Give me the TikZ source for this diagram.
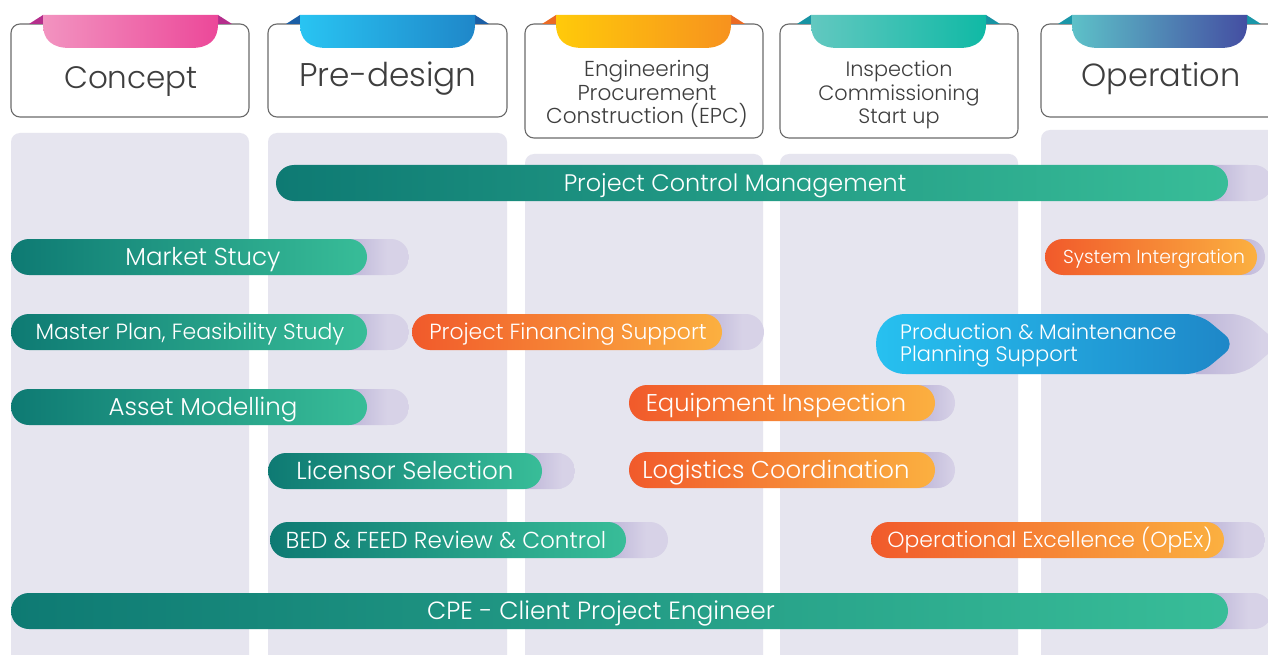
\documentclass[tikz,border=0pt]{standalone}
\usepackage{fontspec}
\IfFontExistsTF{Poppins Light}{\setmainfont{Poppins Light}}{\setmainfont{Poppins}}
\definecolor{colbg}{HTML}{E6E5EF}
\definecolor{shad}{HTML}{D7D2E7}
\definecolor{shaddk}{HTML}{BDB5D8}
\definecolor{gL}{HTML}{0E7A73}
\definecolor{gR}{HTML}{38BD98}
\definecolor{oL}{HTML}{F15A2B}
\definecolor{oR}{HTML}{FBB040}
\definecolor{bL}{HTML}{27C2F1}
\definecolor{bR}{HTML}{1E86C7}
\definecolor{hdr}{HTML}{6B6B6B}
\definecolor{txt}{HTML}{3E3E3E}
\definecolor{pkL}{HTML}{F293C0}
\definecolor{pkR}{HTML}{EC4899}
\definecolor{pkT}{HTML}{B52E8C}
\definecolor{blL}{HTML}{29C4F2}
\definecolor{blR}{HTML}{1F87C9}
\definecolor{blT}{HTML}{1B5FA6}
\definecolor{ygL}{HTML}{FFCA0A}
\definecolor{ygR}{HTML}{F7921E}
\definecolor{ygT}{HTML}{EB6A23}
\definecolor{tqL}{HTML}{62C8C0}
\definecolor{tqR}{HTML}{10B9A5}
\definecolor{tqT}{HTML}{1793A3}
\definecolor{inL}{HTML}{5DC1C8}
\definecolor{inR}{HTML}{444EA2}
\definecolor{inT}{HTML}{1A96A8}
\usetikzlibrary{calc}
% bar: #1 name, #2 x1, #3 x2 (main end), #4 x3 (shadow end), #5 y centre, #6 style, #7 text x, #8 font size, #9 text
\newcommand{\pbar}[9]{%
  \begin{scope}
    \clip[rounded corners=18pt] (#2,{#5-18}) rectangle (#4,{#5+18});
    \fill[shad] (#2,{#5-18}) rectangle (#4,{#5+18});
    \shade[left color=shaddk, right color=shad] ({#3-18},{#5-18}) rectangle ({#3+20},{#5+18});
  \end{scope}
  \shade[#6, rounded corners=18pt] (#2,{#5-18}) rectangle (#3,{#5+18});
  \node[bartext, font=\fontsize{#8}{#8}\selectfont, anchor=base] (#1) at (#7,{#5+0.36*#8}) {#9};
}
% header tab: #1 tab left x, #2 left colour, #3 right colour, #4 fold colour
\newcommand{\htab}[4]{%
  \fill[#4] ({#1-14},24) -- (#1,15) -- (#1,24) -- cycle;
  \fill[#4] ({#1+175},15) -- ({#1+189},24) -- ({#1+175},24) -- cycle;
  \shade[left color=#2, right color=#3] (#1,15) -- (#1,24) .. controls (#1,40) and ({#1+9},48) .. ({#1+27},48) -- ({#1+148},48) .. controls ({#1+166},48) and ({#1+175},40) .. ({#1+175},24) -- ({#1+175},15) -- cycle;
}
\begin{document}
\begin{tikzpicture}[x=1pt,y=-1pt,
  bartext/.style={text=white, inner sep=0pt},
  greenbar/.style={left color=gL, right color=gR},
  orangebar/.style={left color=oL, right color=oR},
  bluebar/.style={left color=bL, right color=bR},
  hdrbox/.style={draw=hdr, line width=1.1pt, fill=white, rounded corners=9pt},
  hdrtext/.style={text=txt, inner sep=0pt},
  colbox/.style={fill=colbg, rounded corners=9pt}]
\useasboundingbox (0,0) rectangle (1268,655);
\clip (0,0) rectangle (1268,655);
\fill[white] (0,0) rectangle (1268,655);

% columns
\fill[colbox] (11,133) rectangle (249,690);
\fill[colbox] (268,133) rectangle (507,690);
\fill[colbox] (525,154) rectangle (763,690);
\fill[colbox] (780,154) rectangle (1018,690);
\fill[colbox] (1041,130) rectangle (1300,690);

% headers
\draw[hdrbox] (11,24) rectangle (249,117);
\htab{43}{pkL}{pkR}{pkT}
\node[hdrtext, font=\fontsize{31}{31}\selectfont, anchor=base] (concept) at (131,89) {Concept};

\draw[hdrbox] (268,24) rectangle (507,117);
\htab{300}{blL}{blR}{blT}
\node[hdrtext, font=\fontsize{32.8}{33}\selectfont, anchor=base] (predesign) at (388,87) {Pre-design};

\draw[hdrbox] (525,24) rectangle (763,138);
\htab{556}{ygL}{ygR}{ygT}
\node[hdrtext, font=\fontsize{21.6}{23.4}\selectfont, align=center] (epc) at (647,94) {Engineering\\Procurement\\Construction (EPC)};

\draw[hdrbox] (780,24) rectangle (1018,138);
\htab{811}{tqL}{tqR}{tqT}
\node[hdrtext, font=\fontsize{20.8}{23.4}\selectfont, align=center] (icsu) at (899,95) {Inspection\\Commissioning\\Start up};

\draw[hdrbox] (1041,24) rectangle (1300,117);
\htab{1072}{inL}{inR}{inT}
\node[hdrtext, font=\fontsize{32}{32}\selectfont, anchor=base] (operation) at (1161,87) {Operation};

% bars
\pbar{pcm}{276}{1228}{1272}{183}{greenbar}{735}{23.9}{Project Control Management}
\pbar{market}{11}{367}{409}{257}{greenbar}{203}{24.5}{Market Stucy}
\pbar{master}{11}{367}{409}{332}{greenbar}{190}{22}{Master Plan, Feasibility Study}
\pbar{asset}{11}{367}{409}{407}{greenbar}{203}{24.5}{Asset Modelling}
\pbar{licensor}{268}{542}{575}{471}{greenbar}{405}{24.6}{Licensor Selection}
\pbar{bed}{270}{626}{668}{540}{greenbar}{446}{23.1}{BED \& FEED Review \& Control}
\pbar{cpe}{11}{1228}{1272}{611}{greenbar}{601}{24.9}{CPE - Client Project Engineer}
\pbar{finance}{412}{722}{764}{332}{orangebar}{568}{21.9}{Project Financing Support}
\pbar{equip}{629}{935}{955}{403}{orangebar}{776}{24.2}{Equipment Inspection}
\pbar{logist}{629}{935}{955}{470}{orangebar}{776}{24.4}{Logistics Coordination}
\pbar{opex}{871}{1224}{1265}{540}{orangebar}{1050}{21.9}{Operational Excellence (OpEx)}
\pbar{sysint}{1045}{1257}{1265}{257}{orangebar}{1154}{18.8}{System Intergration}

% production & maintenance (chevron end)
\begin{scope}
  \clip (906,314) [rounded corners=14pt]-- (1244,314) -- (1280,344) -- (1244,374) [sharp corners]-- (906,374) .. controls (866,374) and (866,314) .. (906,314) -- cycle;
  \fill[shad] (870,300) rectangle (1290,390);
  \shade[left color=shaddk, right color=shad] (1196,300) rectangle (1262,390);
\end{scope}
\shade[bluebar] (906,314) [rounded corners=14pt]-- (1200,314) -- (1236,344) -- (1200,374) [sharp corners]-- (906,374) .. controls (866,374) and (866,314) .. (906,314) -- cycle;
\node[bartext, font=\fontsize{21}{22}\selectfont, align=left, anchor=west] (prod) at (900,345) {Production \& Maintenance\\Planning Support};
\end{tikzpicture}
\end{document}
